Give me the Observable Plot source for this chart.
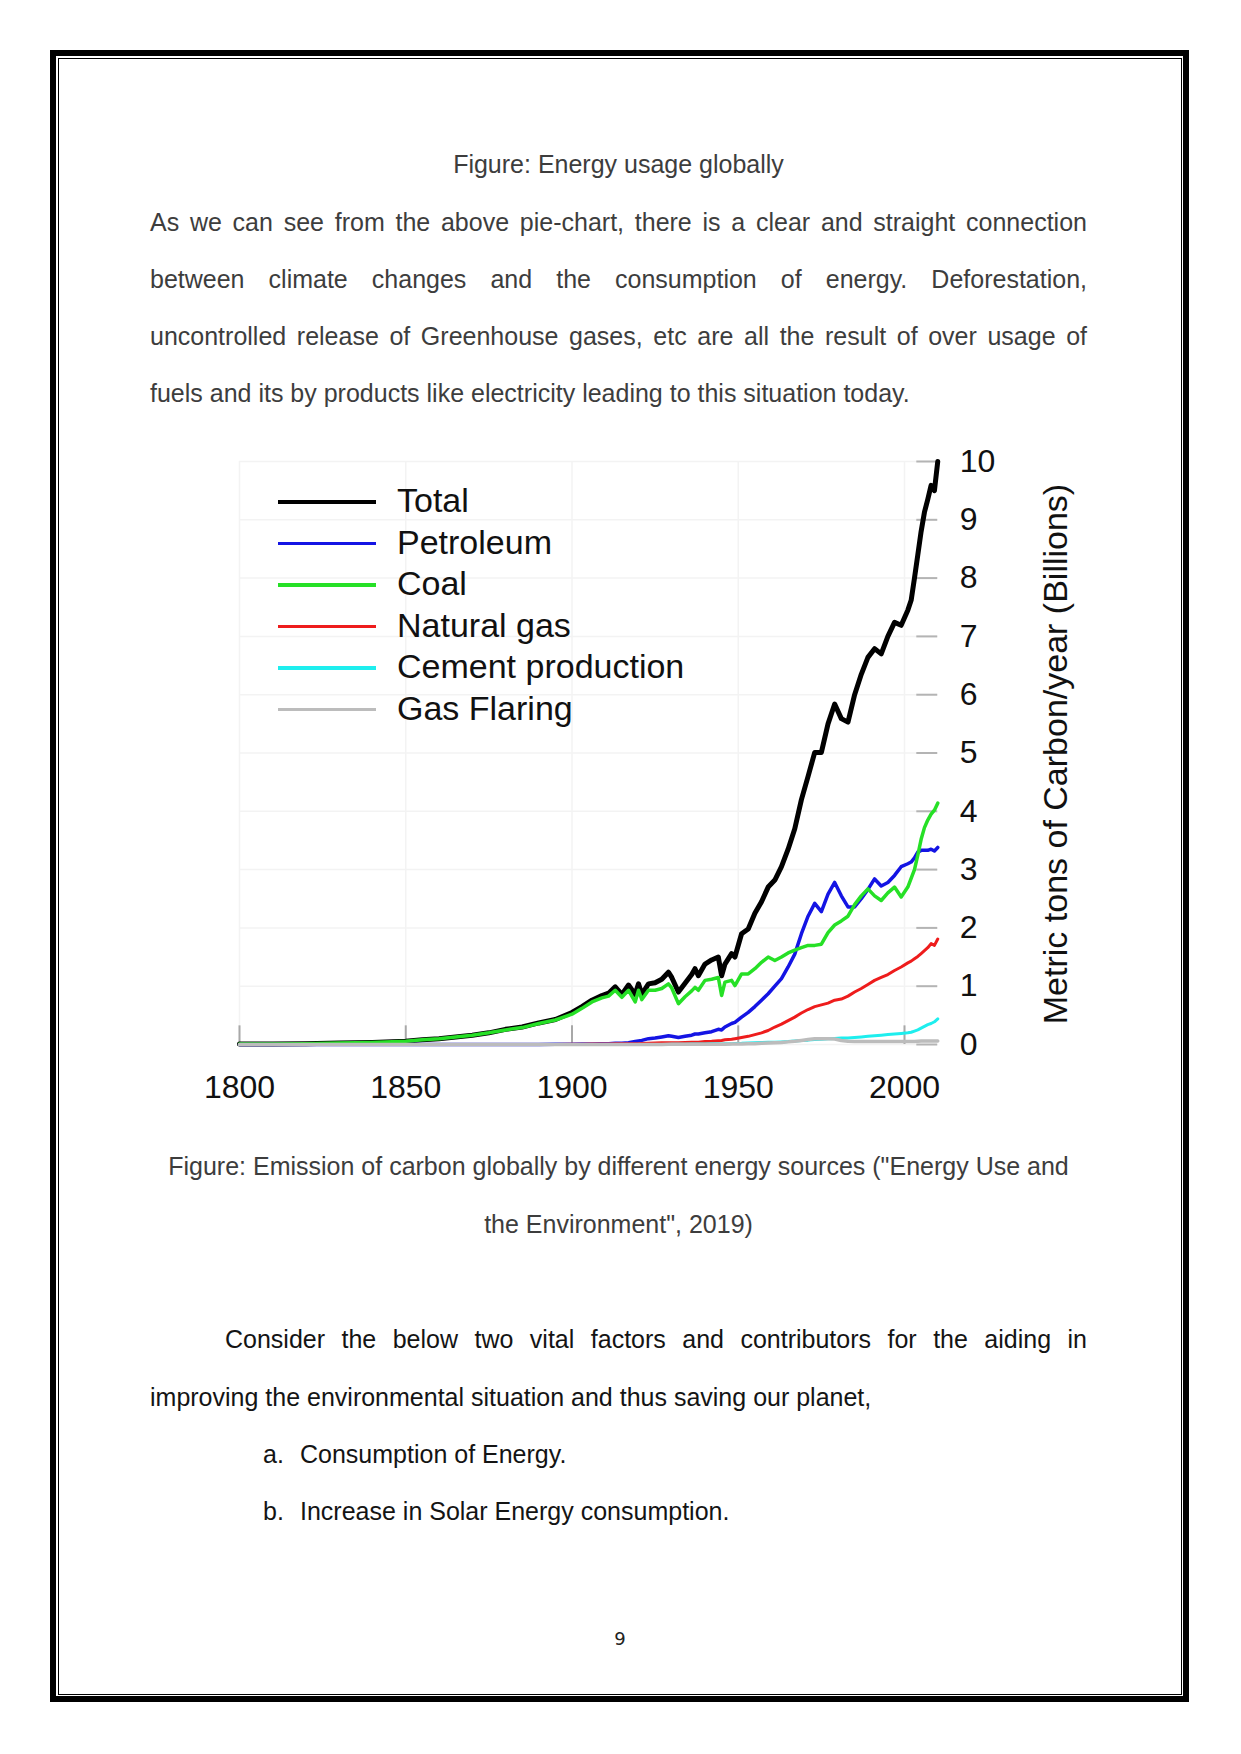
<!DOCTYPE html>
<html><head><meta charset="utf-8">
<script src="https://cdn.jsdelivr.net/npm/d3@7"></script>
<script src="https://cdn.jsdelivr.net/npm/@observablehq/plot@0.6"></script>
<style>
html,body{margin:0;padding:0;background:#fff;}
#page{position:relative;width:1241px;height:1754px;overflow:hidden;background:#fff;font-family:"Liberation Sans",Arial,sans-serif;}
.ln{position:absolute;white-space:nowrap;font-size:25px;line-height:25px;}
.j{text-align:justify;text-align-last:justify;white-space:normal;}
.up{color:#3d3d3d;}
.dn{color:#141414;}
#chart{position:absolute;left:200px;top:440px;}
.leg{position:absolute;font-size:34px;line-height:34px;color:#111;white-space:nowrap;}
.legline{position:absolute;left:278px;width:98px;}
</style></head><body><div id="page">
<div style="position:absolute;left:50px;top:50px;width:1127px;height:1640px;border:6.5px solid #000;"></div>
<div style="position:absolute;left:57.5px;top:57.5px;width:1122px;height:1635px;border:1.5px solid #000;"></div>

<div class="ln up" style="left:150px;width:937px;text-align:center;top:151.8px;">Figure: Energy usage globally</div>
<div class="ln up j" style="left:150px;width:937px;top:209.8px;">As we can see from the above pie-chart, there is a clear and straight connection</div>
<div class="ln up j" style="left:150px;width:937px;top:266.8px;">between climate changes and the consumption of energy. Deforestation,</div>
<div class="ln up j" style="left:150px;width:937px;top:323.8px;">uncontrolled release of Greenhouse gases, etc are all the result of over usage of</div>
<div class="ln up" style="left:150px;top:380.8px;">fuels and its by products like electricity leading to this situation today.</div>

<div id="chart"></div>
<div id="legend"></div>
<div id="ytitle" style="position:absolute;left:755px;top:736.5px;width:600px;height:34px;line-height:34px;font-size:34px;text-align:center;color:#111;white-space:nowrap;transform:rotate(-90deg);transform-origin:50% 50%;">Metric tons of Carbon/year (Billions)</div>

<div class="ln up" style="left:150px;width:937px;text-align:center;top:1153.8px;">Figure: Emission of carbon globally by different energy sources ("Energy Use and</div>
<div class="ln up" style="left:150px;width:937px;text-align:center;top:1211.8px;">the Environment", 2019)</div>

<div class="ln dn j" style="left:225px;width:862px;top:1326.8px;">Consider the below two vital factors and contributors for the aiding in</div>
<div class="ln dn" style="left:150px;top:1384.8px;">improving the environmental situation and thus saving our planet,</div>
<div class="ln dn" style="left:263px;top:1441.8px;">a.</div>
<div class="ln dn" style="left:300px;top:1441.8px;">Consumption of Energy.</div>
<div class="ln dn" style="left:263px;top:1498.8px;">b.</div>
<div class="ln dn" style="left:300px;top:1498.8px;">Increase in Solar Energy consumption.</div>

<div class="ln" style="left:570px;width:100px;text-align:center;top:1630px;font-size:18px;line-height:18px;color:#222;font-family:'DejaVu Sans',sans-serif;">9</div>
</div>
<script>
const years = [1800,1810,1820,1830,1840,1850,1855,1860,1865,1870,1875,1880,1885,1890,1895,
1900,1903,1906,1909,1911,1913,1915,1917,1919,1920,1921,1923,1925,1927,1929,1930,1932,1934,1936,1937,1938,1940,1942,1944,1945,1946,1948,1949,
1951,1953,1955,1957,1959,1961,1963,1965,1967,1969,1971,1973,1975,1977,1979,1981,1983,1985,1987,1989,1991,1993,1995,1997,1999,
2001,2002,2003,2004,2005,2006,2007,2008,2009,2010];

const total = [0.01,0.01,0.015,0.025,0.035,0.055,0.08,0.1,0.13,0.16,0.2,0.26,0.3,0.37,0.43,
0.55,0.65,0.76,0.84,0.88,0.99,0.86,1.02,0.86,1.04,0.86,1.04,1.06,1.12,1.24,1.15,0.90,1.05,1.2,1.30,1.18,1.38,1.45,1.50,1.18,1.38,1.56,1.5,
1.9,1.98,2.25,2.45,2.7,2.82,3.05,3.35,3.7,4.2,4.6,5.01,5.01,5.5,5.84,5.59,5.53,6.0,6.35,6.64,6.79,6.70,7.0,7.24,7.19,
7.45,7.62,8.0,8.4,8.8,9.13,9.35,9.59,9.50,10.0];

const petroleum = [0,0,0,0,0,0,0,0,0,0,0,0,0,0.002,0.004,
0.006,0.008,0.01,0.012,0.015,0.02,0.02,0.03,0.05,0.06,0.07,0.1,0.11,0.13,0.15,0.14,0.12,0.14,0.16,0.18,0.18,0.2,0.22,0.26,0.25,0.3,0.36,0.38,
0.47,0.55,0.65,0.76,0.87,1.0,1.13,1.33,1.55,1.9,2.2,2.42,2.28,2.58,2.78,2.55,2.36,2.36,2.5,2.66,2.84,2.72,2.78,2.9,3.05,
3.1,3.13,3.2,3.3,3.33,3.33,3.33,3.35,3.32,3.38];

const coal = [0.01,0.01,0.015,0.025,0.035,0.055,0.08,0.1,0.13,0.16,0.2,0.25,0.29,0.36,0.42,
0.52,0.62,0.73,0.8,0.83,0.93,0.81,0.93,0.73,0.93,0.77,0.93,0.93,0.96,1.04,0.97,0.70,0.82,0.92,0.98,0.93,1.10,1.12,1.15,0.84,1.07,1.10,1.01,
1.21,1.21,1.3,1.41,1.5,1.44,1.5,1.57,1.62,1.66,1.70,1.70,1.72,1.92,2.05,2.12,2.2,2.4,2.55,2.67,2.55,2.47,2.6,2.7,2.53,
2.7,2.85,3.0,3.25,3.52,3.72,3.85,3.95,4.02,4.14];

const naturalGas = [0,0,0,0,0,0,0,0,0,0,0,0,0,0,0.002,
0.005,0.006,0.008,0.01,0.01,0.011,0.012,0.013,0.014,0.015,0.016,0.02,0.025,0.028,0.03,0.03,0.03,0.033,0.037,0.04,0.04,0.05,0.055,0.065,0.07,0.08,0.09,0.1,
0.12,0.14,0.17,0.2,0.24,0.3,0.35,0.41,0.47,0.54,0.6,0.65,0.68,0.71,0.76,0.78,0.83,0.9,0.96,1.03,1.1,1.15,1.2,1.27,1.33,
1.4,1.43,1.47,1.51,1.56,1.61,1.66,1.73,1.7,1.81];

const cement = [0,0,0,0,0,0,0,0,0,0,0,0,0,0,0,
0,0,0,0,0,0,0,0,0,0,0,0,0,0,0,0.005,0.005,0.006,0.008,0.01,0.01,0.01,0.012,0.012,0.01,0.012,0.015,0.018,
0.02,0.025,0.03,0.033,0.037,0.04,0.045,0.05,0.06,0.068,0.075,0.085,0.09,0.1,0.105,0.11,0.11,0.12,0.13,0.14,0.15,0.16,0.17,0.18,0.19,
0.2,0.21,0.23,0.25,0.28,0.31,0.34,0.36,0.39,0.44];

const gasFlaring = [0,0,0,0,0,0,0,0,0,0,0,0,0,0,0,
0,0,0,0,0,0,0,0,0,0,0,0,0.002,0.002,0.003,0.003,0.003,0.003,0.004,0.004,0.004,0.005,0.005,0.005,0.005,0.006,0.007,0.008,
0.01,0.012,0.015,0.02,0.025,0.03,0.035,0.045,0.055,0.07,0.085,0.1,0.1,0.1,0.095,0.07,0.055,0.05,0.05,0.05,0.05,0.05,0.05,0.05,0.05,
0.05,0.05,0.05,0.055,0.06,0.06,0.06,0.06,0.06,0.06];

const seriesNames = ["Total","Petroleum","Coal","Natural gas","Cement production","Gas Flaring"];
const seriesValues = [total, petroleum, coal, naturalGas, cement, gasFlaring];
const seriesColors = ["#000000","#1414e4","#26e026","#ee1c1c","#1eeeee","#bcbcbc"];
const seriesWidths = [5, 3.5, 3.5, 3, 3, 3.5];
const xTicks = [1800,1850,1900,1950,2000];
const yTicks = [0,1,2,3,4,5,6,7,8,9,10];

seriesValues.forEach((v,i)=>{ if (v.length !== years.length) console.error("length mismatch", seriesNames[i], v.length, years.length); });

const rows = seriesNames.map((name,i)=>years.map((year,j)=>({series:name, year, value: seriesValues[i][j]})));

const chart = Plot.plot({
  width: 880,
  height: 700,
  marginLeft: 39,
  marginRight: 142.75,
  marginTop: 21,
  marginBottom: 96,
  x: {domain: [1800, 2010], label: null},
  y: {domain: [0, 10], label: null},
  style: {fontFamily: "'Liberation Sans', Arial, sans-serif", fontSize: "32px", color: "#111", background: "transparent", overflow: "visible"},
  marks: [
    Plot.gridX({ticks: xTicks, stroke: "#f3f3f3", strokeOpacity: 1, strokeWidth: 1.5}),
    Plot.gridY({ticks: yTicks, stroke: "#f3f3f3", strokeOpacity: 1, strokeWidth: 1.5}),
    Plot.ruleX(xTicks, {x: d=>d, y1: 0, y2: 0.32, stroke: "#a8a8a8", strokeWidth: 2}),
    Plot.ruleY(yTicks, {y: d=>d, x1: 2003.7, x2: 2010, stroke: "#b4b4b4", strokeWidth: 2}),
    ...rows.map((r,i)=>Plot.line(r, {x: "year", y: "value", stroke: seriesColors[i], strokeWidth: seriesWidths[i], strokeLinejoin: "round", strokeLinecap: "round"})),
    Plot.axisX({ticks: xTicks, tickSize: 0, tickPadding: 31, tickFormat: d=>String(d), fontSize: 32, label: null}),
    Plot.axisY({ticks: yTicks, anchor: "right", tickSize: 0, tickPadding: 22, fontSize: 32, label: null})
  ]
});
document.getElementById("chart").appendChild(chart);

const legend = document.getElementById("legend");
const legendBaselines = [512, 553.5, 595, 636.5, 678, 719.5];
seriesNames.forEach((name,i)=>{
  const line = document.createElement("div");
  line.className = "legline";
  const h = i === 0 ? 4.5 : 3.5;
  line.style.top = (legendBaselines[i] - 10 - h/2) + "px";
  line.style.height = h + "px";
  line.style.background = seriesColors[i];
  legend.appendChild(line);
  const t = document.createElement("div");
  t.className = "leg";
  t.style.left = "397px";
  t.style.top = (legendBaselines[i] - 28.8) + "px";
  t.textContent = name;
  legend.appendChild(t);
});
</script>
</body></html>
